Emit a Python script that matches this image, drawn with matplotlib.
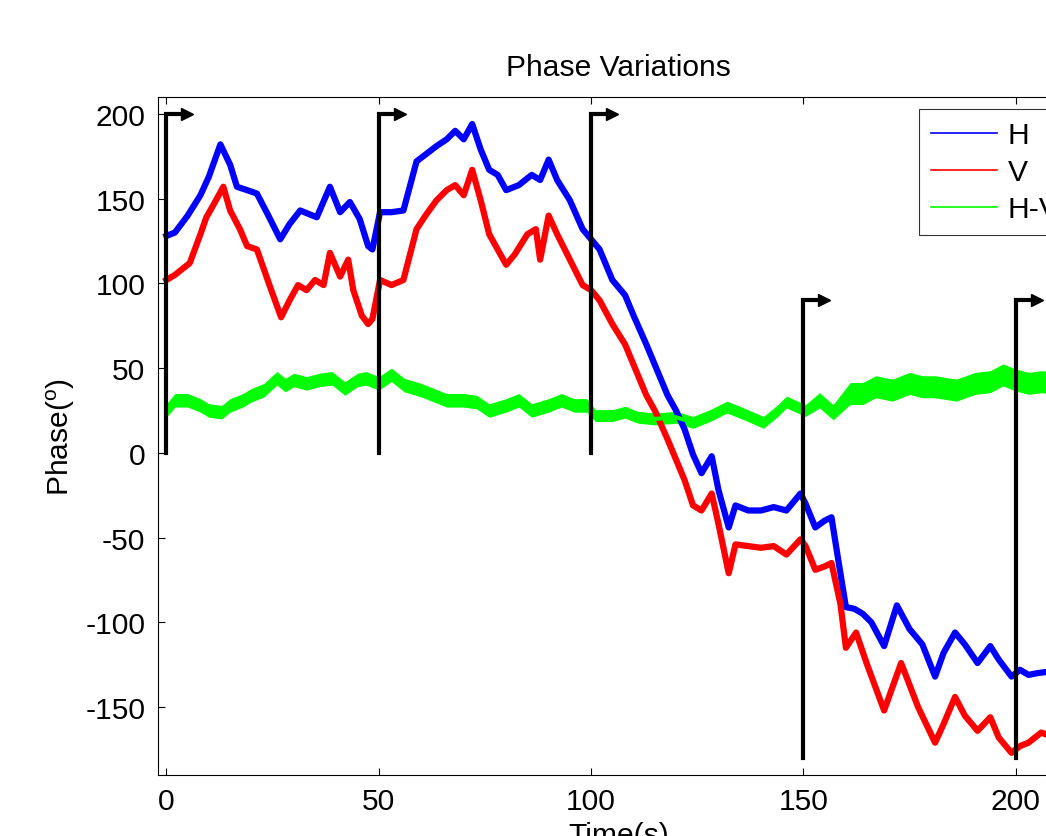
import matplotlib
matplotlib.use('Agg')
import matplotlib.pyplot as plt
import numpy as np

plt.rcParams['font.family'] = ['Liberation Sans', 'DejaVu Sans']
plt.rcParams['mathtext.fontset'] = 'custom'
plt.rcParams['mathtext.rm'] = 'Liberation Sans'
plt.rcParams['mathtext.it'] = 'Liberation Sans'
plt.rcParams['axes.unicode_minus'] = False

## values

t_h = [0, 2, 5, 8, 10, 12.7, 15, 16.6, 19, 21.3, 24, 26.8, 29, 31.5, 35.4, 38.5, 40.9, 43.2,
       45.5, 47.5, 48.5, 50.3, 53, 55.8, 58.9, 61, 63.6, 66, 68, 70, 72, 74, 76, 78, 80, 83,
       86, 88, 90, 92, 95, 98, 100, 102, 105, 108, 110, 113, 115, 118, 120, 122, 124, 126,
       128.4, 130, 132.4, 134, 137, 140, 143, 146, 149.3, 150.5, 152.8, 155, 156.6, 158, 160,
       162, 164, 166, 169, 172, 175, 178, 181, 183, 185.7, 188, 191, 194, 196, 199, 201, 203,
       205, 208, 211, 214]
h = [128, 130, 140, 152, 163, 182, 170, 157, 155, 153, 140, 126, 135, 143, 139, 157, 142, 148,
     138, 122, 120, 142, 142, 143, 172, 176, 181, 185, 190, 185, 194, 179, 167, 164, 155, 158,
     164, 161, 173, 161, 149, 132, 126, 120, 102, 93, 81, 64, 52, 34, 25, 14, -1, -12,
     -2, -22, -44, -31, -34, -34, -32, -34, -24, -30, -44, -40, -38, -60, -91,
     -92, -95, -100, -114, -90, -104, -113, -132, -118, -106, -113, -124, -114, -122, -132, -128, -131,
     -130, -129, -132, -130]

t_v = [0, 2, 5.5, 8, 9.4, 11, 13.4, 15, 17.3, 19, 21.3, 24.4, 27, 29, 31, 33, 35, 37, 38.5,
       40.9, 42.8, 44, 46, 47.5, 48.5, 50.3, 53, 55.8, 58.9, 61, 63.6, 66, 68, 70, 72, 74, 76,
       78, 80, 82, 85, 87, 88, 90, 92, 95, 98, 100, 102, 105, 108, 110, 113, 115, 118, 120,
       122, 124, 126, 128.4, 130, 132.4, 134, 137, 140, 143, 146, 149.3, 150.5, 152.8, 155,
       156.6, 158.7, 160, 162.4, 165, 169, 173, 177, 181, 183, 185.7, 188, 191, 194, 196, 199,
       201, 203, 206, 209, 212, 214]
v = [102, 105, 112, 129, 139, 146, 157, 143, 132, 122, 120, 98, 80, 90, 99, 96, 102, 99, 118,
     104, 114, 96, 81, 76, 79, 102, 99, 102, 132, 140, 149, 155, 158, 152, 167, 149, 129,
     120, 111, 117, 129, 132, 114, 140, 129, 114, 99, 96, 90, 76, 64, 52, 34, 25, 8, -4,
     -16, -31, -34, -24, -42, -71, -54, -55, -56, -55, -60, -51, -55, -69, -67,
     -65, -89, -115, -106, -125, -152, -124, -150, -171, -160, -144, -155, -164, -156, -168, -177,
     -173, -171, -165, -168, -170, -167]

t_g = [0, 2, 5, 8, 10, 13, 15, 18, 20, 23, 26, 28, 30, 33, 36, 39, 42, 45, 47, 50, 53, 56,
       60, 63, 66, 70, 73, 76, 80, 83, 86, 90, 93, 96, 99, 101, 105, 108, 111, 115, 120, 124,
       128, 132, 136, 140.6, 144, 146, 150.5, 153.8, 157, 161, 164, 167, 171, 175, 178, 181,
       186, 190.5, 194, 197, 200, 203, 206, 210, 214]
g = [25, 31, 31, 28, 25, 24, 28, 31, 34, 37, 44, 40, 43, 41, 43, 44, 38, 43, 44, 41, 46, 40,
     37, 34, 31, 31, 30, 25, 28, 31, 25, 28, 31, 28, 28, 22, 22, 24, 21, 20, 21, 18,
     22, 27, 23, 18, 25, 30, 25, 31, 24, 35, 35, 39, 37, 41, 39, 39,
     37, 41, 42, 46, 43, 41, 42, 41, 42]
# half width of the noisy green band (deg)
g_half = [4] * 35 + [3.5] * 14 + [4.5, 4.5] + [6.5] * 16

# step markers: vertical line + arrow on top
step_t = [0, 50, 100, 150, 200]
step_bottom = [0, 0, 0, -180, -180]
step_top = [200, 200, 200, 90, 90]

fig = plt.figure(figsize=(10.46, 8.37), dpi=100)
ax = fig.add_axes([0.151, 0.073, 0.881, 0.810])

ax.plot(t_h, h, color=(0, 0, 1), lw=4.5, label='H')
ax.plot(t_v, v, color=(1, 0, 0), lw=4.5, label='V')
ax.plot(t_g, g, color=(0, 1, 0), lw=3, label='H-V')
ax.fill_between(t_g, np.array(g) - np.array(g_half), np.array(g) + np.array(g_half),
                color=(0, 1, 0), lw=0)

for x, b, tp in zip(step_t, step_bottom, step_top):
    ax.plot([x, x, x + 4.2], [b, tp, tp], color='k', lw=3, solid_joinstyle='miter', zorder=5)
    ax.plot([x + 4.9], [tp], marker='>', color='k', markersize=9, zorder=5)

ax.set_xlim(-2, 215)
ax.set_ylim(-190, 210)
ax.set_xticks([0, 50, 100, 150, 200])
ax.set_yticks([-150, -100, -50, 0, 50, 100, 150, 200])
ax.tick_params(direction='in', length=5, width=0.8, top=True, right=True,
               labelsize=21.6, pad=9)
for s in ax.spines.values():
    s.set_linewidth(0.8)

ax.set_title('Phase Variations', fontsize=21.6, pad=16)
ax.set_xlabel('Time(s)', fontsize=21.6, labelpad=4)
ax.set_ylabel(r'Phase($^{\mathrm{o}}$)', fontsize=21.6)
ax.yaxis.set_label_coords(-0.088, 0.5)

leg = ax.legend(loc='upper left', bbox_to_anchor=(0.826, 0.982), fontsize=21.6,
                handlelength=2.2, handletextpad=0.35, labelspacing=0.3,
                borderpad=0.4, frameon=True, fancybox=False, borderaxespad=0)
leg.get_frame().set_edgecolor('k')
leg.get_frame().set_linewidth(0.8)
for line in leg.get_lines():
    line.set_linewidth(1.2)

fig.savefig('out.png', dpi=100)
